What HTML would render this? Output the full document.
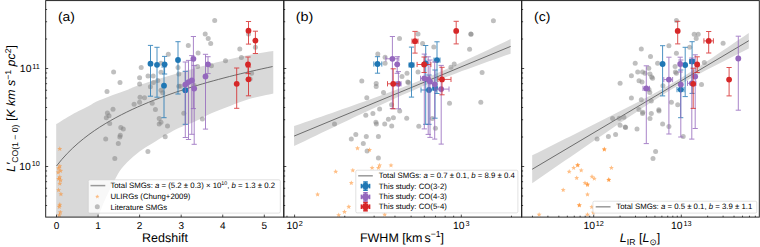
<!DOCTYPE html><html><head><meta charset="utf-8"><style>html,body{margin:0;padding:0;background:#fff;width:760px;height:247px;overflow:hidden;position:relative}</style></head><body><svg width="760" height="247" viewBox="0 0 760 247" style="position:absolute;left:0;top:0" text-rendering="geometricPrecision">
<defs><clipPath id="ca"><rect x="45.7" y="0.6" width="237.9" height="216.5"/></clipPath><clipPath id="cb"><rect x="283.6" y="0.6" width="237.7" height="216.5"/></clipPath><clipPath id="cc"><rect x="521.3" y="0.6" width="238" height="216.5"/></clipPath></defs>
<rect width="760" height="247" fill="#fff"/>
<g clip-path="url(#ca)"><path d="M56.20,124.10 C58.87,122.48 66.83,117.37 72.20,114.40 C77.57,111.43 84.43,108.40 88.40,106.30 C92.37,104.20 92.03,103.65 96.00,101.80 C99.97,99.95 106.80,97.27 112.20,95.20 C117.60,93.13 124.43,90.88 128.40,89.40 C132.37,87.92 131.40,87.90 136.00,86.30 C140.60,84.70 149.33,81.88 156.00,79.80 C162.67,77.72 169.33,75.77 176.00,73.80 C182.67,71.83 189.33,69.88 196.00,68.00 C202.67,66.12 209.67,64.13 216.00,62.50 C222.33,60.87 228.08,59.53 234.00,58.20 C239.92,56.87 244.95,55.70 251.50,54.50 C258.05,53.30 269.67,51.58 273.30,51.00 L273.30,93.40 C269.42,94.30 257.22,96.70 250.00,98.80 C242.78,100.90 236.33,103.63 230.00,106.00 C223.67,108.37 217.83,110.42 212.00,113.00 C206.17,115.58 200.33,119.08 195.00,121.50 C189.67,123.92 183.77,125.87 180.00,127.50 C176.23,129.13 176.37,129.05 172.40,131.30 C168.43,133.55 160.77,138.25 156.20,141.00 C151.63,143.75 148.13,145.75 145.00,147.80 C141.87,149.85 140.02,151.23 137.40,153.30 C134.78,155.37 132.00,157.57 129.30,160.20 C126.60,162.83 123.50,166.05 121.20,169.10 C118.90,172.15 117.37,175.18 115.50,178.50 C113.63,181.82 111.92,185.08 110.00,189.00 C108.08,192.92 106.00,197.25 104.00,202.00 C102.00,206.75 99.00,214.92 98.00,217.50 L56.2,218 Z" fill="#d9d9d9"/><polyline points="56.50,166.00 61.90,159.34 67.31,153.40 72.71,148.05 78.11,143.18 83.51,138.71 88.92,134.57 94.32,130.73 99.72,127.14 105.13,123.77 110.53,120.60 115.93,117.61 121.33,114.77 126.74,112.07 132.14,109.49 137.54,107.04 142.94,104.69 148.35,102.43 153.75,100.27 159.15,98.19 164.56,96.18 169.96,94.25 175.36,92.38 180.76,90.58 186.17,88.83 191.57,87.14 196.97,85.49 202.38,83.90 207.78,82.35 213.18,80.85 218.58,79.38 223.99,77.95 229.39,76.56 234.79,75.21 240.20,73.88 245.60,72.59 251.00,71.33 256.40,70.10 261.81,68.89 267.21,67.71 272.61,66.55" fill="none" stroke="#606060" stroke-width="0.9"/><g fill="#808080" fill-opacity="0.5"><circle cx="214.7" cy="20.6" r="2.5"/><circle cx="205.2" cy="33.9" r="2.5"/><circle cx="208.2" cy="38.4" r="2.5"/><circle cx="210.7" cy="43.4" r="2.5"/><circle cx="188.3" cy="45.6" r="2.5"/><circle cx="168.3" cy="54.2" r="2.5"/><circle cx="198.1" cy="53" r="2.5"/><circle cx="239.8" cy="48.9" r="2.5"/><circle cx="241.4" cy="57.5" r="2.5"/><circle cx="255.4" cy="47.3" r="2.5"/><circle cx="225.5" cy="60.7" r="2.5"/><circle cx="248.5" cy="34.1" r="2.5"/><circle cx="141.2" cy="67.5" r="2.5"/><circle cx="161" cy="63.2" r="2.5"/><circle cx="178" cy="67.5" r="2.5"/><circle cx="113.6" cy="72.1" r="2.5"/><circle cx="120" cy="82.5" r="2.5"/><circle cx="107" cy="91.6" r="2.5"/><circle cx="139.6" cy="77.8" r="2.5"/><circle cx="139.6" cy="84.1" r="2.5"/><circle cx="148" cy="76" r="2.5"/><circle cx="153.2" cy="76" r="2.5"/><circle cx="153.4" cy="82.4" r="2.5"/><circle cx="150.4" cy="86.7" r="2.5"/><circle cx="140" cy="97.3" r="2.5"/><circle cx="144.5" cy="97.7" r="2.5"/><circle cx="139.6" cy="102.2" r="2.5"/><circle cx="134.1" cy="104.2" r="2.5"/><circle cx="152.2" cy="103.3" r="2.5"/><circle cx="155.4" cy="109.6" r="2.5"/><circle cx="113" cy="109.3" r="2.5"/><circle cx="107.4" cy="112.9" r="2.5"/><circle cx="109" cy="115.7" r="2.5"/><circle cx="106.3" cy="117.8" r="2.5"/><circle cx="109.7" cy="123.5" r="2.5"/><circle cx="161" cy="72.2" r="2.5"/><circle cx="159.2" cy="118.5" r="2.5"/><circle cx="161" cy="122.2" r="2.5"/><circle cx="120.8" cy="127.6" r="2.5"/><circle cx="157.8" cy="80.5" r="2.5"/><circle cx="178.8" cy="74" r="2.5"/><circle cx="161" cy="90.2" r="2.5"/><circle cx="162.7" cy="92.7" r="2.5"/><circle cx="178.8" cy="86.2" r="2.5"/><circle cx="211.4" cy="65.8" r="2.5"/><circle cx="197.6" cy="66.5" r="2.5"/><circle cx="251.6" cy="73.3" r="2.5"/><circle cx="183.8" cy="113.3" r="2.5"/><circle cx="202.4" cy="119" r="2.5"/><circle cx="194.2" cy="85.4" r="2.5"/><circle cx="180.4" cy="86.2" r="2.5"/><circle cx="123.3" cy="129" r="2.5"/><circle cx="120.3" cy="135.3" r="2.5"/><circle cx="119.8" cy="137" r="2.5"/><circle cx="105.7" cy="139" r="2.5"/><circle cx="118.3" cy="143.6" r="2.5"/><circle cx="114.8" cy="158.4" r="2.5"/><circle cx="147.9" cy="151.6" r="2.5"/><circle cx="159.2" cy="124" r="2.5"/><circle cx="167.5" cy="126" r="2.5"/><circle cx="250.1" cy="79" r="2.5"/><circle cx="165.2" cy="136.8" r="2.5"/></g><g fill="#ff7f0e" fill-opacity="0.5"><path d="M59.80,146.30 L60.49,147.95 L62.27,148.10 L60.91,149.26 L61.33,151.00 L59.80,150.07 L58.27,151.00 L58.69,149.26 L57.33,148.10 L59.11,147.95Z"/><path d="M59.80,163.60 L60.49,165.25 L62.27,165.40 L60.91,166.56 L61.33,168.30 L59.80,167.37 L58.27,168.30 L58.69,166.56 L57.33,165.40 L59.11,165.25Z"/><path d="M58.60,165.70 L59.29,167.35 L61.07,167.50 L59.71,168.66 L60.13,170.40 L58.60,169.47 L57.07,170.40 L57.49,168.66 L56.13,167.50 L57.91,167.35Z"/><path d="M60.60,168.20 L61.29,169.85 L63.07,170.00 L61.71,171.16 L62.13,172.90 L60.60,171.97 L59.07,172.90 L59.49,171.16 L58.13,170.00 L59.91,169.85Z"/><path d="M58.10,169.80 L58.79,171.45 L60.57,171.60 L59.21,172.76 L59.63,174.50 L58.10,173.57 L56.57,174.50 L56.99,172.76 L55.63,171.60 L57.41,171.45Z"/><path d="M59.80,174.60 L60.49,176.25 L62.27,176.40 L60.91,177.56 L61.33,179.30 L59.80,178.37 L58.27,179.30 L58.69,177.56 L57.33,176.40 L59.11,176.25Z"/><path d="M58.60,176.30 L59.29,177.95 L61.07,178.10 L59.71,179.26 L60.13,181.00 L58.60,180.07 L57.07,181.00 L57.49,179.26 L56.13,178.10 L57.91,177.95Z"/><path d="M60.60,177.80 L61.29,179.45 L63.07,179.60 L61.71,180.76 L62.13,182.50 L60.60,181.57 L59.07,182.50 L59.49,180.76 L58.13,179.60 L59.91,179.45Z"/><path d="M59.80,181.10 L60.49,182.75 L62.27,182.90 L60.91,184.06 L61.33,185.80 L59.80,184.87 L58.27,185.80 L58.69,184.06 L57.33,182.90 L59.11,182.75Z"/><path d="M58.60,187.50 L59.29,189.15 L61.07,189.30 L59.71,190.46 L60.13,192.20 L58.60,191.27 L57.07,192.20 L57.49,190.46 L56.13,189.30 L57.91,189.15Z"/><path d="M60.90,191.60 L61.59,193.25 L63.37,193.40 L62.01,194.56 L62.43,196.30 L60.90,195.37 L59.37,196.30 L59.79,194.56 L58.43,193.40 L60.21,193.25Z"/><path d="M59.80,202.10 L60.49,203.75 L62.27,203.90 L60.91,205.06 L61.33,206.80 L59.80,205.87 L58.27,206.80 L58.69,205.06 L57.33,203.90 L59.11,203.75Z"/><path d="M59.30,204.20 L59.99,205.85 L61.77,206.00 L60.41,207.16 L60.83,208.90 L59.30,207.97 L57.77,208.90 L58.19,207.16 L56.83,206.00 L58.61,205.85Z"/><path d="M60.30,209.70 L60.99,211.35 L62.77,211.50 L61.41,212.66 L61.83,214.40 L60.30,213.47 L58.77,214.40 L59.19,212.66 L57.83,211.50 L59.61,211.35Z"/><path d="M59.30,212.60 L59.99,214.25 L61.77,214.40 L60.41,215.56 L60.83,217.30 L59.30,216.37 L57.77,217.30 L58.19,215.56 L56.83,214.40 L58.61,214.25Z"/></g><g stroke="#1f77b4" stroke-width="1" opacity="0.8"><line x1="150.5" y1="45.4" x2="150.5" y2="96.2"/><line x1="147.90" y1="45.4" x2="153.10" y2="45.4"/><line x1="147.90" y1="96.2" x2="153.10" y2="96.2"/></g><circle cx="150.5" cy="63.7" r="2.9" fill="#1f77b4"/><g stroke="#1f77b4" stroke-width="1" opacity="0.8"><line x1="157" y1="47.3" x2="157" y2="97.2"/><line x1="154.40" y1="47.3" x2="159.60" y2="47.3"/><line x1="154.40" y1="97.2" x2="159.60" y2="97.2"/></g><circle cx="157" cy="64.8" r="2.9" fill="#1f77b4"/><g stroke="#1f77b4" stroke-width="1" opacity="0.8"><line x1="164.6" y1="56.4" x2="164.6" y2="74"/><line x1="162.00" y1="56.4" x2="167.20" y2="56.4"/><line x1="162.00" y1="74" x2="167.20" y2="74"/></g><circle cx="164.6" cy="64.3" r="2.9" fill="#1f77b4"/><g stroke="#1f77b4" stroke-width="1" opacity="0.8"><line x1="164" y1="67" x2="164" y2="117.7"/><line x1="161.40" y1="67" x2="166.60" y2="67"/><line x1="161.40" y1="117.7" x2="166.60" y2="117.7"/></g><circle cx="164" cy="85.7" r="2.9" fill="#1f77b4"/><g stroke="#1f77b4" stroke-width="1" opacity="0.8"><line x1="178" y1="41.7" x2="178" y2="94"/><line x1="175.40" y1="41.7" x2="180.60" y2="41.7"/><line x1="175.40" y1="94" x2="180.60" y2="94"/></g><circle cx="178" cy="60" r="2.9" fill="#1f77b4"/><g stroke="#1f77b4" stroke-width="1" opacity="0.8"><line x1="185.3" y1="71.3" x2="185.3" y2="124.3"/><line x1="182.70" y1="71.3" x2="187.90" y2="71.3"/><line x1="182.70" y1="124.3" x2="187.90" y2="124.3"/></g><circle cx="185.3" cy="90.2" r="2.9" fill="#1f77b4"/><g stroke="#9467bd" stroke-width="1" opacity="0.8"><line x1="185.3" y1="62" x2="185.3" y2="137.5"/><line x1="182.70" y1="62" x2="187.90" y2="62"/><line x1="182.70" y1="137.5" x2="187.90" y2="137.5"/></g><circle cx="185.3" cy="84.6" r="2.9" fill="#9467bd"/><g stroke="#9467bd" stroke-width="1" opacity="0.8"><line x1="188.5" y1="60.4" x2="188.5" y2="139.5"/><line x1="185.90" y1="60.4" x2="191.10" y2="60.4"/><line x1="185.90" y1="139.5" x2="191.10" y2="139.5"/></g><circle cx="188.5" cy="82.1" r="2.9" fill="#9467bd"/><g stroke="#9467bd" stroke-width="1" opacity="0.8"><line x1="191.8" y1="55.6" x2="191.8" y2="134.3"/><line x1="189.20" y1="55.6" x2="194.40" y2="55.6"/><line x1="189.20" y1="134.3" x2="194.40" y2="134.3"/></g><circle cx="191.8" cy="80.5" r="2.9" fill="#9467bd"/><g stroke="#9467bd" stroke-width="1" opacity="0.8"><line x1="194.2" y1="65.4" x2="194.2" y2="144.3"/><line x1="191.60" y1="65.4" x2="196.80" y2="65.4"/><line x1="191.60" y1="144.3" x2="196.80" y2="144.3"/></g><circle cx="194.2" cy="88.6" r="2.9" fill="#9467bd"/><g stroke="#9467bd" stroke-width="1" opacity="0.8"><line x1="193.4" y1="36.5" x2="193.4" y2="108.6"/><line x1="190.80" y1="36.5" x2="196.00" y2="36.5"/><line x1="190.80" y1="108.6" x2="196.00" y2="108.6"/></g><circle cx="193.4" cy="58.8" r="2.9" fill="#9467bd"/><g stroke="#9467bd" stroke-width="1" opacity="0.8"><line x1="205.5" y1="54.3" x2="205.5" y2="129.1"/><line x1="202.90" y1="54.3" x2="208.10" y2="54.3"/><line x1="202.90" y1="129.1" x2="208.10" y2="129.1"/></g><circle cx="205.5" cy="76.5" r="2.9" fill="#9467bd"/><g stroke="#9467bd" stroke-width="1" opacity="0.8"><line x1="208" y1="56.7" x2="208" y2="73.6"/><line x1="205.40" y1="56.7" x2="210.60" y2="56.7"/><line x1="205.40" y1="73.6" x2="210.60" y2="73.6"/></g><circle cx="208" cy="64.3" r="2.9" fill="#9467bd"/><g stroke="#d62728" stroke-width="1" opacity="0.8"><line x1="248.5" y1="21.5" x2="248.5" y2="44.1"/><line x1="245.90" y1="21.5" x2="251.10" y2="21.5"/><line x1="245.90" y1="44.1" x2="251.10" y2="44.1"/></g><circle cx="248.5" cy="30.7" r="2.9" fill="#d62728"/><g stroke="#d62728" stroke-width="1" opacity="0.8"><line x1="255.4" y1="31.2" x2="255.4" y2="53.5"/><line x1="252.80" y1="31.2" x2="258.00" y2="31.2"/><line x1="252.80" y1="53.5" x2="258.00" y2="53.5"/></g><circle cx="255.4" cy="40.6" r="2.9" fill="#d62728"/><g stroke="#d62728" stroke-width="1" opacity="0.8"><line x1="248" y1="57" x2="248" y2="73.6"/><line x1="245.40" y1="57" x2="250.60" y2="57"/><line x1="245.40" y1="73.6" x2="250.60" y2="73.6"/></g><circle cx="248" cy="64.4" r="2.9" fill="#d62728"/><g stroke="#d62728" stroke-width="1" opacity="0.8"><line x1="248.5" y1="67" x2="248.5" y2="95.8"/><line x1="245.90" y1="67" x2="251.10" y2="67"/><line x1="245.90" y1="95.8" x2="251.10" y2="95.8"/></g><circle cx="248.5" cy="79.3" r="2.9" fill="#d62728"/><g stroke="#d62728" stroke-width="1" opacity="0.8"><line x1="236.7" y1="68" x2="236.7" y2="108.3"/><line x1="234.10" y1="68" x2="239.30" y2="68"/><line x1="234.10" y1="108.3" x2="239.30" y2="108.3"/></g><circle cx="236.7" cy="83.8" r="2.9" fill="#d62728"/></g><g clip-path="url(#cb)"><path d="M294.10,126.05 L299.51,124.18 L304.93,122.30 L310.34,120.42 L315.75,118.54 L321.16,116.66 L326.58,114.77 L331.99,112.88 L337.40,110.98 L342.81,109.08 L348.23,107.17 L353.64,105.25 L359.05,103.33 L364.46,101.40 L369.88,99.45 L375.29,97.49 L380.70,95.52 L386.11,93.53 L391.53,91.51 L396.94,89.47 L402.35,87.40 L407.76,85.29 L413.18,83.15 L418.59,80.96 L424.00,78.73 L429.41,76.46 L434.83,74.15 L440.24,71.79 L445.65,69.40 L451.06,66.98 L456.48,64.53 L461.89,62.05 L467.30,59.55 L472.71,57.04 L478.12,54.51 L483.54,51.96 L488.95,49.41 L494.36,46.85 L499.78,44.28 L505.19,41.70 L510.60,39.11 L510.60,53.71 L505.19,55.61 L499.78,57.51 L494.36,59.42 L488.95,61.34 L483.54,63.27 L478.12,65.21 L472.71,67.17 L467.30,69.14 L461.89,71.12 L456.48,73.13 L451.06,75.16 L445.65,77.22 L440.24,79.31 L434.83,81.44 L429.41,83.61 L424.00,85.82 L418.59,88.08 L413.18,90.38 L407.76,92.72 L402.35,95.10 L396.94,97.51 L391.53,99.95 L386.11,102.42 L380.70,104.91 L375.29,107.42 L369.88,109.94 L364.46,112.48 L359.05,115.03 L353.64,117.59 L348.23,120.16 L342.81,122.74 L337.40,125.32 L331.99,127.90 L326.58,130.50 L321.16,133.09 L315.75,135.69 L310.34,138.29 L304.93,140.90 L299.51,143.51 L294.10,146.11Z" fill="#d9d9d9"/><line x1="294.1" y1="136.08" x2="510.6" y2="46.41" stroke="#606060" stroke-width="0.9"/><g fill="#808080" fill-opacity="0.5"><circle cx="399.5" cy="38.6" r="2.5"/><circle cx="377.8" cy="54" r="2.5"/><circle cx="385.1" cy="57.2" r="2.5"/><circle cx="385.1" cy="63.2" r="2.5"/><circle cx="493.4" cy="20.8" r="2.5"/><circle cx="470.8" cy="33.9" r="2.5"/><circle cx="418" cy="33.9" r="2.5"/><circle cx="422.6" cy="43.4" r="2.5"/><circle cx="433.8" cy="47.1" r="2.5"/><circle cx="469.6" cy="49.2" r="2.5"/><circle cx="471.1" cy="34.2" r="2.5"/><circle cx="361.8" cy="81" r="2.5"/><circle cx="376.2" cy="83.5" r="2.5"/><circle cx="376.2" cy="86.6" r="2.5"/><circle cx="383.5" cy="92.6" r="2.5"/><circle cx="366.8" cy="97.7" r="2.5"/><circle cx="379.6" cy="109" r="2.5"/><circle cx="365.8" cy="115.2" r="2.5"/><circle cx="372.9" cy="113.5" r="2.5"/><circle cx="388.4" cy="119.2" r="2.5"/><circle cx="393.4" cy="117.7" r="2.5"/><circle cx="399.7" cy="111" r="2.5"/><circle cx="375.9" cy="122.2" r="2.5"/><circle cx="402" cy="76.5" r="2.5"/><circle cx="407.7" cy="82.1" r="2.5"/><circle cx="391.6" cy="104.8" r="2.5"/><circle cx="407" cy="73.2" r="2.5"/><circle cx="482.1" cy="72.5" r="2.5"/><circle cx="480.8" cy="102.2" r="2.5"/><circle cx="449.5" cy="103.2" r="2.5"/><circle cx="406.7" cy="118.3" r="2.5"/><circle cx="408.5" cy="82.6" r="2.5"/><circle cx="418" cy="72" r="2.5"/><circle cx="450.9" cy="67.3" r="2.5"/><circle cx="454.2" cy="64" r="2.5"/><circle cx="418.8" cy="126.3" r="2.5"/><circle cx="432.3" cy="118.6" r="2.5"/><circle cx="435.4" cy="128.3" r="2.5"/><circle cx="334.5" cy="124" r="2.5"/><circle cx="351.3" cy="139.1" r="2.5"/><circle cx="355.8" cy="134.5" r="2.5"/><circle cx="366.3" cy="136.6" r="2.5"/><circle cx="363.3" cy="143.6" r="2.5"/><circle cx="367.1" cy="151.1" r="2.5"/><circle cx="378.4" cy="136.6" r="2.5"/><circle cx="378.4" cy="157.9" r="2.5"/><circle cx="376.4" cy="124" r="2.5"/><circle cx="384.7" cy="124" r="2.5"/><circle cx="391.7" cy="126" r="2.5"/></g><g fill="#ff7f0e" fill-opacity="0.5"><path d="M357.50,145.70 L358.19,147.35 L359.97,147.50 L358.61,148.66 L359.03,150.40 L357.50,149.47 L355.97,150.40 L356.39,148.66 L355.03,147.50 L356.81,147.35Z"/><path d="M369.60,147.30 L370.29,148.95 L372.07,149.10 L370.71,150.26 L371.13,152.00 L369.60,151.07 L368.07,152.00 L368.49,150.26 L367.13,149.10 L368.91,148.95Z"/><path d="M335.70,169.10 L336.39,170.75 L338.17,170.90 L336.81,172.06 L337.23,173.80 L335.70,172.87 L334.17,173.80 L334.59,172.06 L333.23,170.90 L335.01,170.75Z"/><path d="M352.80,167.80 L353.49,169.45 L355.27,169.60 L353.91,170.76 L354.33,172.50 L352.80,171.57 L351.27,172.50 L351.69,170.76 L350.33,169.60 L352.11,169.45Z"/><path d="M372.10,165.30 L372.79,166.95 L374.57,167.10 L373.21,168.26 L373.63,170.00 L372.10,169.07 L370.57,170.00 L370.99,168.26 L369.63,167.10 L371.41,166.95Z"/><path d="M379.60,162.80 L380.29,164.45 L382.07,164.60 L380.71,165.76 L381.13,167.50 L379.60,166.57 L378.07,167.50 L378.49,165.76 L377.13,164.60 L378.91,164.45Z"/><path d="M391.00,162.80 L391.69,164.45 L393.47,164.60 L392.11,165.76 L392.53,167.50 L391.00,166.57 L389.47,167.50 L389.89,165.76 L388.53,164.60 L390.31,164.45Z"/><path d="M378.40,165.30 L379.09,166.95 L380.87,167.10 L379.51,168.26 L379.93,170.00 L378.40,169.07 L376.87,170.00 L377.29,168.26 L375.93,167.10 L377.71,166.95Z"/><path d="M351.30,180.40 L351.99,182.05 L353.77,182.20 L352.41,183.36 L352.83,185.10 L351.30,184.17 L349.77,185.10 L350.19,183.36 L348.83,182.20 L350.61,182.05Z"/><path d="M317.60,191.90 L318.29,193.55 L320.07,193.70 L318.71,194.86 L319.13,196.60 L317.60,195.67 L316.07,196.60 L316.49,194.86 L315.13,193.70 L316.91,193.55Z"/><path d="M348.80,204.20 L349.49,205.85 L351.27,206.00 L349.91,207.16 L350.33,208.90 L348.80,207.97 L347.27,208.90 L347.69,207.16 L346.33,206.00 L348.11,205.85Z"/><path d="M344.50,209.30 L345.19,210.95 L346.97,211.10 L345.61,212.26 L346.03,214.00 L344.50,213.07 L342.97,214.00 L343.39,212.26 L342.03,211.10 L343.81,210.95Z"/><path d="M338.70,212.50 L339.39,214.15 L341.17,214.30 L339.81,215.46 L340.23,217.20 L338.70,216.27 L337.17,217.20 L337.59,215.46 L336.23,214.30 L338.01,214.15Z"/><path d="M384.70,212.00 L385.39,213.65 L387.17,213.80 L385.81,214.96 L386.23,216.70 L384.70,215.77 L383.17,216.70 L383.59,214.96 L382.23,213.80 L384.01,213.65Z"/></g><g stroke="#1f77b4" stroke-width="1" opacity="0.8"><line x1="377.5" y1="56.7" x2="377.5" y2="73.2"/><line x1="374.90" y1="56.7" x2="380.10" y2="56.7"/><line x1="374.90" y1="73.2" x2="380.10" y2="73.2"/><line x1="373.8" y1="64" x2="381.8" y2="64"/><line x1="373.8" y1="61.40" x2="373.8" y2="66.60"/><line x1="381.8" y1="61.40" x2="381.8" y2="66.60"/></g><circle cx="377.5" cy="64" r="2.9" fill="#1f77b4"/><g stroke="#1f77b4" stroke-width="1" opacity="0.8"><line x1="411.5" y1="47.1" x2="411.5" y2="97.1"/><line x1="408.90" y1="47.1" x2="414.10" y2="47.1"/><line x1="408.90" y1="97.1" x2="414.10" y2="97.1"/><line x1="409" y1="65" x2="414" y2="65"/><line x1="409" y1="62.40" x2="409" y2="67.60"/><line x1="414" y1="62.40" x2="414" y2="67.60"/></g><circle cx="411.5" cy="65" r="2.9" fill="#1f77b4"/><g stroke="#1f77b4" stroke-width="1" opacity="0.8"><line x1="425.7" y1="45.5" x2="425.7" y2="124.3"/><line x1="423.10" y1="45.5" x2="428.30" y2="45.5"/><line x1="423.10" y1="124.3" x2="428.30" y2="124.3"/></g><circle cx="425.7" cy="63.3" r="2.9" fill="#1f77b4"/><g stroke="#1f77b4" stroke-width="1" opacity="0.8"><line x1="437" y1="41.8" x2="437" y2="93.5"/><line x1="434.40" y1="41.8" x2="439.60" y2="41.8"/><line x1="434.40" y1="93.5" x2="439.60" y2="93.5"/><line x1="434" y1="60.1" x2="440" y2="60.1"/><line x1="434" y1="57.50" x2="434" y2="62.70"/><line x1="440" y1="57.50" x2="440" y2="62.70"/></g><circle cx="437" cy="60.1" r="2.9" fill="#1f77b4"/><g stroke="#1f77b4" stroke-width="1" opacity="0.8"><line x1="429" y1="75" x2="429" y2="124.3"/><line x1="426.40" y1="75" x2="431.60" y2="75"/><line x1="426.40" y1="124.3" x2="431.60" y2="124.3"/><line x1="421" y1="90" x2="436" y2="90"/><line x1="421" y1="87.40" x2="421" y2="92.60"/><line x1="436" y1="87.40" x2="436" y2="92.60"/></g><circle cx="429" cy="90" r="2.9" fill="#1f77b4"/><g stroke="#1f77b4" stroke-width="1" opacity="0.8"><line x1="435" y1="70" x2="435" y2="118.2"/><line x1="432.40" y1="70" x2="437.60" y2="70"/><line x1="432.40" y1="118.2" x2="437.60" y2="118.2"/></g><circle cx="435" cy="88" r="2.9" fill="#1f77b4"/><g stroke="#9467bd" stroke-width="1" opacity="0.8"><line x1="392.4" y1="36.5" x2="392.4" y2="108.6"/><line x1="389.80" y1="36.5" x2="395.00" y2="36.5"/><line x1="389.80" y1="108.6" x2="395.00" y2="108.6"/><line x1="385.9" y1="58.8" x2="398.8" y2="58.8"/><line x1="385.9" y1="56.20" x2="385.9" y2="61.40"/><line x1="398.8" y1="56.20" x2="398.8" y2="61.40"/></g><circle cx="392.4" cy="58.8" r="2.9" fill="#9467bd"/><g stroke="#9467bd" stroke-width="1" opacity="0.8"><line x1="397.2" y1="56.7" x2="397.2" y2="73.3"/><line x1="394.60" y1="56.7" x2="399.80" y2="56.7"/><line x1="394.60" y1="73.3" x2="399.80" y2="73.3"/></g><circle cx="397.2" cy="64.3" r="2.9" fill="#9467bd"/><g stroke="#9467bd" stroke-width="1" opacity="0.8"><line x1="398.4" y1="71.6" x2="398.4" y2="108.8"/><line x1="395.80" y1="71.6" x2="401.00" y2="71.6"/><line x1="395.80" y1="108.8" x2="401.00" y2="108.8"/><line x1="396" y1="83.8" x2="401" y2="83.8"/><line x1="396" y1="81.20" x2="396" y2="86.40"/><line x1="401" y1="81.20" x2="401" y2="86.40"/></g><circle cx="398.4" cy="83.8" r="2.9" fill="#9467bd"/><g stroke="#9467bd" stroke-width="1" opacity="0.8"><line x1="424.3" y1="54.1" x2="424.3" y2="128.9"/><line x1="421.70" y1="54.1" x2="426.90" y2="54.1"/><line x1="421.70" y1="128.9" x2="426.90" y2="128.9"/><line x1="420.5" y1="78.3" x2="429.5" y2="78.3"/><line x1="420.5" y1="75.70" x2="420.5" y2="80.90"/><line x1="429.5" y1="75.70" x2="429.5" y2="80.90"/></g><circle cx="424.3" cy="78.3" r="2.9" fill="#9467bd"/><g stroke="#9467bd" stroke-width="1" opacity="0.8"><line x1="428.2" y1="56.8" x2="428.2" y2="134.4"/><line x1="425.60" y1="56.8" x2="430.80" y2="56.8"/><line x1="425.60" y1="134.4" x2="430.80" y2="134.4"/></g><circle cx="428.2" cy="79.4" r="2.9" fill="#9467bd"/><g stroke="#9467bd" stroke-width="1" opacity="0.8"><line x1="430" y1="60" x2="430" y2="137.4"/><line x1="427.40" y1="60" x2="432.60" y2="60"/><line x1="427.40" y1="137.4" x2="432.60" y2="137.4"/></g><circle cx="430" cy="81.6" r="2.9" fill="#9467bd"/><g stroke="#9467bd" stroke-width="1" opacity="0.8"><line x1="434.7" y1="62" x2="434.7" y2="139.1"/><line x1="432.10" y1="62" x2="437.30" y2="62"/><line x1="432.10" y1="139.1" x2="437.30" y2="139.1"/></g><circle cx="434.7" cy="84.3" r="2.9" fill="#9467bd"/><g stroke="#9467bd" stroke-width="1" opacity="0.8"><line x1="441.2" y1="65.4" x2="441.2" y2="144.1"/><line x1="438.60" y1="65.4" x2="443.80" y2="65.4"/><line x1="438.60" y1="144.1" x2="443.80" y2="144.1"/><line x1="436" y1="89.1" x2="449" y2="89.1"/><line x1="436" y1="86.50" x2="436" y2="91.70"/><line x1="449" y1="86.50" x2="449" y2="91.70"/></g><circle cx="441.2" cy="89.1" r="2.9" fill="#9467bd"/><g stroke="#d62728" stroke-width="1" opacity="0.8"><line x1="456.2" y1="21.3" x2="456.2" y2="43.9"/><line x1="453.60" y1="21.3" x2="458.80" y2="21.3"/><line x1="453.60" y1="43.9" x2="458.80" y2="43.9"/></g><circle cx="456.2" cy="30.9" r="2.9" fill="#d62728"/><g stroke="#d62728" stroke-width="1" opacity="0.8"><line x1="415" y1="31.4" x2="415" y2="53.1"/><line x1="412.40" y1="31.4" x2="417.60" y2="31.4"/><line x1="412.40" y1="53.1" x2="417.60" y2="53.1"/><line x1="412" y1="41.2" x2="418" y2="41.2"/><line x1="412" y1="38.60" x2="412" y2="43.80"/><line x1="418" y1="38.60" x2="418" y2="43.80"/></g><circle cx="415" cy="41.2" r="2.9" fill="#d62728"/><g stroke="#d62728" stroke-width="1" opacity="0.8"><line x1="393.2" y1="68.8" x2="393.2" y2="108.8"/><line x1="390.60" y1="68.8" x2="395.80" y2="68.8"/><line x1="390.60" y1="108.8" x2="395.80" y2="108.8"/><line x1="387.5" y1="83.8" x2="399" y2="83.8"/><line x1="387.5" y1="81.20" x2="387.5" y2="86.40"/><line x1="399" y1="81.20" x2="399" y2="86.40"/></g><circle cx="393.2" cy="83.8" r="2.9" fill="#d62728"/><g stroke="#d62728" stroke-width="1" opacity="0.8"><line x1="424.1" y1="57" x2="424.1" y2="72.5"/><line x1="421.50" y1="57" x2="426.70" y2="57"/><line x1="421.50" y1="72.5" x2="426.70" y2="72.5"/><line x1="417.1" y1="64.5" x2="430.9" y2="64.5"/><line x1="417.1" y1="61.90" x2="417.1" y2="67.10"/><line x1="430.9" y1="61.90" x2="430.9" y2="67.10"/></g><circle cx="424.1" cy="64.5" r="2.9" fill="#d62728"/><g stroke="#d62728" stroke-width="1" opacity="0.8"><line x1="442" y1="67.3" x2="442" y2="94.8"/><line x1="439.40" y1="67.3" x2="444.60" y2="67.3"/><line x1="439.40" y1="94.8" x2="444.60" y2="94.8"/><line x1="438" y1="79.4" x2="451" y2="79.4"/><line x1="438" y1="76.80" x2="438" y2="82.00"/><line x1="451" y1="76.80" x2="451" y2="82.00"/></g><circle cx="442" cy="79.4" r="2.9" fill="#d62728"/></g><g clip-path="url(#cc)"><path d="M532.20,155.36 L537.62,152.65 L543.03,149.94 L548.45,147.24 L553.86,144.53 L559.28,141.82 L564.69,139.10 L570.11,136.39 L575.52,133.67 L580.94,130.96 L586.35,128.23 L591.76,125.51 L597.18,122.78 L602.60,120.05 L608.01,117.31 L613.42,114.57 L618.84,111.81 L624.25,109.05 L629.67,106.27 L635.09,103.48 L640.50,100.67 L645.91,97.83 L651.33,94.95 L656.75,92.02 L662.16,89.03 L667.58,85.97 L672.99,82.82 L678.40,79.57 L683.82,76.24 L689.24,72.83 L694.65,69.35 L700.06,65.82 L705.48,62.24 L710.89,58.64 L716.31,55.01 L721.72,51.37 L727.14,47.71 L732.55,44.04 L737.97,40.36 L743.38,36.67 L748.80,32.98 L748.80,48.44 L743.38,51.17 L737.97,53.91 L732.55,56.66 L727.14,59.42 L721.72,62.19 L716.31,64.97 L710.89,67.77 L705.48,70.59 L700.06,73.45 L694.65,76.34 L689.24,79.29 L683.82,82.30 L678.40,85.40 L672.99,88.58 L667.58,91.86 L662.16,95.22 L656.75,98.66 L651.33,102.17 L645.91,105.71 L640.50,109.30 L635.09,112.91 L629.67,116.55 L624.25,120.20 L618.84,123.86 L613.42,127.54 L608.01,131.22 L602.60,134.91 L597.18,138.61 L591.76,142.30 L586.35,146.01 L580.94,149.72 L575.52,153.42 L570.11,157.14 L564.69,160.85 L559.28,164.57 L553.86,168.28 L548.45,172.00 L543.03,175.72 L537.62,179.44 L532.20,183.16Z" fill="#d9d9d9"/><line x1="532.2" y1="169.26" x2="748.8" y2="40.71" stroke="#606060" stroke-width="0.9"/><g fill="#808080" fill-opacity="0.5"><circle cx="676.4" cy="20.6" r="2.5"/><circle cx="694.2" cy="34.2" r="2.5"/><circle cx="698.2" cy="34.2" r="2.5"/><circle cx="696.2" cy="38.6" r="2.5"/><circle cx="668.9" cy="45.7" r="2.5"/><circle cx="641.3" cy="48.9" r="2.5"/><circle cx="650.5" cy="56.5" r="2.5"/><circle cx="676.4" cy="53.2" r="2.5"/><circle cx="689.7" cy="47.3" r="2.5"/><circle cx="723.1" cy="43.3" r="2.5"/><circle cx="704.3" cy="62.5" r="2.5"/><circle cx="635.2" cy="63.3" r="2.5"/><circle cx="631.4" cy="75.8" r="2.5"/><circle cx="637.7" cy="72" r="2.5"/><circle cx="620.1" cy="83.3" r="2.5"/><circle cx="639" cy="80.8" r="2.5"/><circle cx="631.4" cy="97.9" r="2.5"/><circle cx="612.6" cy="118.5" r="2.5"/><circle cx="623.9" cy="117.2" r="2.5"/><circle cx="649.8" cy="92.4" r="2.5"/><circle cx="638.9" cy="109.4" r="2.5"/><circle cx="619.3" cy="118.2" r="2.5"/><circle cx="642.5" cy="72" r="2.5"/><circle cx="650" cy="74" r="2.5"/><circle cx="648.8" cy="68.3" r="2.5"/><circle cx="652.6" cy="78.3" r="2.5"/><circle cx="642" cy="82" r="2.5"/><circle cx="641.3" cy="99.7" r="2.5"/><circle cx="651.3" cy="100.9" r="2.5"/><circle cx="671.4" cy="102.2" r="2.5"/><circle cx="658.8" cy="109.7" r="2.5"/><circle cx="642.5" cy="113.5" r="2.5"/><circle cx="651.3" cy="113.5" r="2.5"/><circle cx="650" cy="118.5" r="2.5"/><circle cx="677.7" cy="104.7" r="2.5"/><circle cx="701.5" cy="84.6" r="2.5"/><circle cx="675.1" cy="66.5" r="2.5"/><circle cx="676.4" cy="73.3" r="2.5"/><circle cx="657.6" cy="63.3" r="2.5"/><circle cx="651.6" cy="77" r="2.5"/><circle cx="645" cy="73.3" r="2.5"/><circle cx="649" cy="89.6" r="2.5"/><circle cx="662.9" cy="85.8" r="2.5"/><circle cx="675.4" cy="72" r="2.5"/><circle cx="659" cy="111" r="2.5"/><circle cx="642.8" cy="112.2" r="2.5"/><circle cx="597.1" cy="139.1" r="2.5"/><circle cx="608.4" cy="136.6" r="2.5"/><circle cx="615.6" cy="134.5" r="2.5"/><circle cx="620.1" cy="125.3" r="2.5"/><circle cx="625.2" cy="127" r="2.5"/><circle cx="625.6" cy="127.6" r="2.5"/><circle cx="637" cy="129" r="2.5"/><circle cx="655.6" cy="151.6" r="2.5"/><circle cx="653" cy="158.4" r="2.5"/><circle cx="683.2" cy="136.6" r="2.5"/><circle cx="668.9" cy="126.5" r="2.5"/><circle cx="662.6" cy="124" r="2.5"/></g><g fill="#ff7f0e" fill-opacity="0.5"><path d="M604.30,146.50 L604.99,148.15 L606.77,148.30 L605.41,149.46 L605.83,151.20 L604.30,150.27 L602.77,151.20 L603.19,149.46 L601.83,148.30 L603.61,148.15Z"/><path d="M604.30,147.00 L604.99,148.65 L606.77,148.80 L605.41,149.96 L605.83,151.70 L604.30,150.77 L602.77,151.70 L603.19,149.96 L601.83,148.80 L603.61,148.65Z"/><path d="M577.50,162.80 L578.19,164.45 L579.97,164.60 L578.61,165.76 L579.03,167.50 L577.50,166.57 L575.97,167.50 L576.39,165.76 L575.03,164.60 L576.81,164.45Z"/><path d="M577.90,162.40 L578.59,164.05 L580.37,164.20 L579.01,165.36 L579.43,167.10 L577.90,166.17 L576.37,167.10 L576.79,165.36 L575.43,164.20 L577.21,164.05Z"/><path d="M608.80,177.40 L609.49,179.05 L611.27,179.20 L609.91,180.36 L610.33,182.10 L608.80,181.17 L607.27,182.10 L607.69,180.36 L606.33,179.20 L608.11,179.05Z"/><path d="M579.40,202.80 L580.09,204.45 L581.87,204.60 L580.51,205.76 L580.93,207.50 L579.40,206.57 L577.87,207.50 L578.29,205.76 L576.93,204.60 L578.71,204.45Z"/><path d="M591.80,204.40 L592.49,206.05 L594.27,206.20 L592.91,207.36 L593.33,209.10 L591.80,208.17 L590.27,209.10 L590.69,207.36 L589.33,206.20 L591.11,206.05Z"/><path d="M593.30,210.00 L593.99,211.65 L595.77,211.80 L594.41,212.96 L594.83,214.70 L593.30,213.77 L591.77,214.70 L592.19,212.96 L590.83,211.80 L592.61,211.65Z"/><path d="M573.70,165.30 L574.39,166.95 L576.17,167.10 L574.81,168.26 L575.23,170.00 L573.70,169.07 L572.17,170.00 L572.59,168.26 L571.23,167.10 L573.01,166.95Z"/><path d="M569.20,169.10 L569.89,170.75 L571.67,170.90 L570.31,172.06 L570.73,173.80 L569.20,172.87 L567.67,173.80 L568.09,172.06 L566.73,170.90 L568.51,170.75Z"/><path d="M581.20,167.80 L581.89,169.45 L583.67,169.60 L582.31,170.76 L582.73,172.50 L581.20,171.57 L579.67,172.50 L580.09,170.76 L578.73,169.60 L580.51,169.45Z"/><path d="M611.40,165.30 L612.09,166.95 L613.87,167.10 L612.51,168.26 L612.93,170.00 L611.40,169.07 L609.87,170.00 L610.29,168.26 L608.93,167.10 L610.71,166.95Z"/><path d="M576.70,175.40 L577.39,177.05 L579.17,177.20 L577.81,178.36 L578.23,180.10 L576.70,179.17 L575.17,180.10 L575.59,178.36 L574.23,177.20 L576.01,177.05Z"/><path d="M592.00,174.10 L592.69,175.75 L594.47,175.90 L593.11,177.06 L593.53,178.80 L592.00,177.87 L590.47,178.80 L590.89,177.06 L589.53,175.90 L591.31,175.75Z"/><path d="M594.30,176.10 L594.99,177.75 L596.77,177.90 L595.41,179.06 L595.83,180.80 L594.30,179.87 L592.77,180.80 L593.19,179.06 L591.83,177.90 L593.61,177.75Z"/><path d="M608.80,177.10 L609.49,178.75 L611.27,178.90 L609.91,180.06 L610.33,181.80 L608.80,180.87 L607.27,181.80 L607.69,180.06 L606.33,178.90 L608.11,178.75Z"/><path d="M585.00,180.40 L585.69,182.05 L587.47,182.20 L586.11,183.36 L586.53,185.10 L585.00,184.17 L583.47,185.10 L583.89,183.36 L582.53,182.20 L584.31,182.05Z"/><path d="M587.50,181.60 L588.19,183.25 L589.97,183.40 L588.61,184.56 L589.03,186.30 L587.50,185.37 L585.97,186.30 L586.39,184.56 L585.03,183.40 L586.81,183.25Z"/><path d="M563.20,187.40 L563.89,189.05 L565.67,189.20 L564.31,190.36 L564.73,192.10 L563.20,191.17 L561.67,192.10 L562.09,190.36 L560.73,189.20 L562.51,189.05Z"/><path d="M587.50,182.40 L588.19,184.05 L589.97,184.20 L588.61,185.36 L589.03,187.10 L587.50,186.17 L585.97,187.10 L586.39,185.36 L585.03,184.20 L586.81,184.05Z"/><path d="M587.50,191.90 L588.19,193.55 L589.97,193.70 L588.61,194.86 L589.03,196.60 L587.50,195.67 L585.97,196.60 L586.39,194.86 L585.03,193.70 L586.81,193.55Z"/><path d="M579.20,202.50 L579.89,204.15 L581.67,204.30 L580.31,205.46 L580.73,207.20 L579.20,206.27 L577.67,207.20 L578.09,205.46 L576.73,204.30 L578.51,204.15Z"/><path d="M587.50,212.00 L588.19,213.65 L589.97,213.80 L588.61,214.96 L589.03,216.70 L587.50,215.77 L585.97,216.70 L586.39,214.96 L585.03,213.80 L586.81,213.65Z"/><path d="M539.10,212.00 L539.79,213.65 L541.57,213.80 L540.21,214.96 L540.63,216.70 L539.10,215.77 L537.57,216.70 L537.99,214.96 L536.63,213.80 L538.41,213.65Z"/></g><g stroke="#1f77b4" stroke-width="1" opacity="0.8"><line x1="662.6" y1="45.7" x2="662.6" y2="95.9"/><line x1="660.00" y1="45.7" x2="665.20" y2="45.7"/><line x1="660.00" y1="95.9" x2="665.20" y2="95.9"/></g><circle cx="662.6" cy="64" r="2.9" fill="#1f77b4"/><g stroke="#1f77b4" stroke-width="1" opacity="0.8"><line x1="685.2" y1="47.3" x2="685.2" y2="96.6"/><line x1="682.60" y1="47.3" x2="687.80" y2="47.3"/><line x1="682.60" y1="96.6" x2="687.80" y2="96.6"/></g><circle cx="685.2" cy="65" r="2.9" fill="#1f77b4"/><g stroke="#1f77b4" stroke-width="1" opacity="0.8"><line x1="692.1" y1="41.7" x2="692.1" y2="93.4"/><line x1="689.50" y1="41.7" x2="694.70" y2="41.7"/><line x1="689.50" y1="93.4" x2="694.70" y2="93.4"/><line x1="689.5" y1="61.5" x2="694.5" y2="61.5"/><line x1="689.5" y1="58.90" x2="689.5" y2="64.10"/><line x1="694.5" y1="58.90" x2="694.5" y2="64.10"/></g><circle cx="692.1" cy="61.5" r="2.9" fill="#1f77b4"/><g stroke="#1f77b4" stroke-width="1" opacity="0.8"><line x1="680.7" y1="70" x2="680.7" y2="117.7"/><line x1="678.10" y1="70" x2="683.30" y2="70"/><line x1="678.10" y1="117.7" x2="683.30" y2="117.7"/><line x1="677" y1="89.6" x2="684" y2="89.6"/><line x1="677" y1="87.00" x2="677" y2="92.20"/><line x1="684" y1="87.00" x2="684" y2="92.20"/></g><circle cx="680.7" cy="89.6" r="2.9" fill="#1f77b4"/><g stroke="#9467bd" stroke-width="1" opacity="0.8"><line x1="668.9" y1="57.2" x2="668.9" y2="134"/><line x1="666.30" y1="57.2" x2="671.50" y2="57.2"/><line x1="666.30" y1="134" x2="671.50" y2="134"/><line x1="663.8" y1="79.6" x2="672.6" y2="79.6"/><line x1="663.8" y1="77.00" x2="663.8" y2="82.20"/><line x1="672.6" y1="77.00" x2="672.6" y2="82.20"/></g><circle cx="668.9" cy="79.6" r="2.9" fill="#9467bd"/><g stroke="#9467bd" stroke-width="1" opacity="0.8"><line x1="646.3" y1="65.8" x2="646.3" y2="143.6"/><line x1="643.70" y1="65.8" x2="648.90" y2="65.8"/><line x1="643.70" y1="143.6" x2="648.90" y2="143.6"/><line x1="643" y1="88.4" x2="649.5" y2="88.4"/><line x1="643" y1="85.80" x2="643" y2="91.00"/><line x1="649.5" y1="85.80" x2="649.5" y2="91.00"/></g><circle cx="646.3" cy="88.4" r="2.9" fill="#9467bd"/><g stroke="#9467bd" stroke-width="1" opacity="0.8"><line x1="680.2" y1="57.2" x2="680.2" y2="72"/><line x1="677.60" y1="57.2" x2="682.80" y2="57.2"/><line x1="677.60" y1="72" x2="682.80" y2="72"/></g><circle cx="680.2" cy="64" r="2.9" fill="#9467bd"/><g stroke="#9467bd" stroke-width="1" opacity="0.8"><line x1="695.2" y1="54.8" x2="695.2" y2="128.5"/><line x1="692.60" y1="54.8" x2="697.80" y2="54.8"/><line x1="692.60" y1="128.5" x2="697.80" y2="128.5"/></g><circle cx="695.2" cy="76.6" r="2.9" fill="#9467bd"/><g stroke="#9467bd" stroke-width="1" opacity="0.8"><line x1="680.8" y1="60" x2="680.8" y2="137"/><line x1="678.20" y1="60" x2="683.40" y2="60"/><line x1="678.20" y1="137" x2="683.40" y2="137"/></g><circle cx="680.8" cy="84.6" r="2.9" fill="#9467bd"/><g stroke="#9467bd" stroke-width="1" opacity="0.8"><line x1="691.8" y1="58" x2="691.8" y2="139.1"/><line x1="689.20" y1="58" x2="694.40" y2="58"/><line x1="689.20" y1="139.1" x2="694.40" y2="139.1"/><line x1="687.5" y1="83.3" x2="696" y2="83.3"/><line x1="687.5" y1="80.70" x2="687.5" y2="85.90"/><line x1="696" y1="80.70" x2="696" y2="85.90"/></g><circle cx="691.8" cy="83.3" r="2.9" fill="#9467bd"/><g stroke="#9467bd" stroke-width="1" opacity="0.8"><line x1="738.3" y1="36.2" x2="738.3" y2="110.2"/><line x1="735.70" y1="36.2" x2="740.90" y2="36.2"/><line x1="735.70" y1="110.2" x2="740.90" y2="110.2"/></g><circle cx="738.3" cy="58.5" r="2.9" fill="#9467bd"/><g stroke="#d62728" stroke-width="1" opacity="0.8"><line x1="677.7" y1="21.3" x2="677.7" y2="43.9"/><line x1="675.10" y1="21.3" x2="680.30" y2="21.3"/><line x1="675.10" y1="43.9" x2="680.30" y2="43.9"/></g><circle cx="677.7" cy="30.9" r="2.9" fill="#d62728"/><g stroke="#d62728" stroke-width="1" opacity="0.8"><line x1="708.7" y1="31.5" x2="708.7" y2="53"/><line x1="706.10" y1="31.5" x2="711.30" y2="31.5"/><line x1="706.10" y1="53" x2="711.30" y2="53"/><line x1="703.9" y1="40.9" x2="713.4" y2="40.9"/><line x1="703.9" y1="38.30" x2="703.9" y2="43.50"/><line x1="713.4" y1="38.30" x2="713.4" y2="43.50"/></g><circle cx="708.7" cy="40.9" r="2.9" fill="#d62728"/><g stroke="#d62728" stroke-width="1" opacity="0.8"><line x1="697.2" y1="56.8" x2="697.2" y2="72.5"/><line x1="694.60" y1="56.8" x2="699.80" y2="56.8"/><line x1="694.60" y1="72.5" x2="699.80" y2="72.5"/></g><circle cx="697.2" cy="64.5" r="2.9" fill="#d62728"/><g stroke="#d62728" stroke-width="1" opacity="0.8"><line x1="693.2" y1="68.2" x2="693.2" y2="108.4"/><line x1="690.60" y1="68.2" x2="695.80" y2="68.2"/><line x1="690.60" y1="108.4" x2="695.80" y2="108.4"/></g><circle cx="693.2" cy="83.8" r="2.9" fill="#d62728"/><g stroke="#d62728" stroke-width="1" opacity="0.8"><line x1="729.1" y1="67.5" x2="729.1" y2="95.9"/><line x1="726.50" y1="67.5" x2="731.70" y2="67.5"/><line x1="726.50" y1="95.9" x2="731.70" y2="95.9"/></g><circle cx="729.1" cy="79.6" r="2.9" fill="#d62728"/></g><g font-family="Liberation Sans, sans-serif" font-size="7.8" fill="#000"><rect x="88.3" y="179.8" width="192" height="33.3" rx="1.5" fill="#fff" fill-opacity="0.8" stroke="#cccccc" stroke-width="0.6"/><line x1="90.5" y1="185.6" x2="105.3" y2="185.6" stroke="#999999" stroke-width="1.5"/><text x="110.4" y="188.4">Total SMGs: <tspan font-style="italic">a</tspan> = (5.2 ± 0.3) × 10<tspan font-size="5.3" dy="-3">10</tspan><tspan dy="3">, </tspan><tspan font-style="italic">b</tspan> = 1.3 ± 0.2</text><path d="M97.30,194.40 L97.88,195.80 L99.39,195.92 L98.24,196.91 L98.59,198.38 L97.30,197.59 L96.01,198.38 L96.36,196.91 L95.21,195.92 L96.72,195.80Z" fill="#ff7f0e" fill-opacity="0.5"/><text x="110.4" y="199.1">ULIRGs (Chung+2009)</text><circle cx="97.3" cy="206.8" r="2.5" fill="#808080" fill-opacity="0.5"/><text x="110.4" y="209.8">Literature SMGs</text><rect x="355.8" y="170.2" width="162.1" height="42.7" rx="1.5" fill="#fff" fill-opacity="0.8" stroke="#cccccc" stroke-width="0.6"/><line x1="358.2" y1="175.8" x2="372.8" y2="175.8" stroke="#999999" stroke-width="1.5"/><text x="378.8" y="178.1">Total SMGs: <tspan font-style="italic">a</tspan> = 0.7 ± 0.1, <tspan font-style="italic">b</tspan> = 8.9 ± 0.4</text><g stroke="#1f77b4" stroke-width="1.5"><line x1="361.4" y1="186.1" x2="369.6" y2="186.1"/><line x1="365.5" y1="182.0" x2="365.5" y2="190.2"/><line x1="361.4" y1="183.79999999999998" x2="361.4" y2="188.4"/><line x1="369.6" y1="183.79999999999998" x2="369.6" y2="188.4"/><line x1="363.2" y1="182.0" x2="367.8" y2="182.0"/><line x1="363.2" y1="190.2" x2="367.8" y2="190.2"/></g><circle cx="365.5" cy="186.1" r="3.4" fill="#1f77b4"/><text x="378.8" y="188.6">This study: CO(3-2)</text><g stroke="#9467bd" stroke-width="1.5"><line x1="361.4" y1="196.9" x2="369.6" y2="196.9"/><line x1="365.5" y1="192.8" x2="365.5" y2="201.0"/><line x1="361.4" y1="194.6" x2="361.4" y2="199.20000000000002"/><line x1="369.6" y1="194.6" x2="369.6" y2="199.20000000000002"/><line x1="363.2" y1="192.8" x2="367.8" y2="192.8"/><line x1="363.2" y1="201.0" x2="367.8" y2="201.0"/></g><circle cx="365.5" cy="196.9" r="3.4" fill="#9467bd"/><text x="378.8" y="199.4">This study: CO(4-3)</text><g stroke="#d62728" stroke-width="1.5"><line x1="361.4" y1="206.7" x2="369.6" y2="206.7"/><line x1="365.5" y1="202.6" x2="365.5" y2="210.79999999999998"/><line x1="361.4" y1="204.39999999999998" x2="361.4" y2="209.0"/><line x1="369.6" y1="204.39999999999998" x2="369.6" y2="209.0"/><line x1="363.2" y1="202.6" x2="367.8" y2="202.6"/><line x1="363.2" y1="210.79999999999998" x2="367.8" y2="210.79999999999998"/></g><circle cx="365.5" cy="206.7" r="3.4" fill="#d62728"/><text x="378.8" y="209.2">This study: CO(5-4)</text><rect x="592.9" y="201.2" width="163.9" height="11.9" rx="1.5" fill="#fff" fill-opacity="0.8" stroke="#cccccc" stroke-width="0.6"/><line x1="595.7" y1="206.8" x2="610.5" y2="206.8" stroke="#999999" stroke-width="1.5"/><text x="616.3" y="209.2">Total SMGs: <tspan font-style="italic">a</tspan> = 0.5 ± 0.1, <tspan font-style="italic">b</tspan> = 3.9 ± 1.1</text></g>
<rect x="45.7" y="0.6" width="238.10000000000002" height="216.5" fill="none" stroke="#1a1a1a" stroke-width="0.95"/><rect x="283.8" y="0.6" width="237.90000000000003" height="216.5" fill="none" stroke="#1a1a1a" stroke-width="0.95"/><rect x="521.7" y="0.6" width="237.5999999999999" height="216.5" fill="none" stroke="#1a1a1a" stroke-width="0.95"/><line x1="45.7" y1="205.50" x2="47.1" y2="205.50" stroke="#000" stroke-width="0.7"/><line x1="45.7" y1="196.00" x2="47.1" y2="196.00" stroke="#000" stroke-width="0.7"/><line x1="45.7" y1="188.24" x2="47.1" y2="188.24" stroke="#000" stroke-width="0.7"/><line x1="45.7" y1="181.68" x2="47.1" y2="181.68" stroke="#000" stroke-width="0.7"/><line x1="45.7" y1="176.00" x2="47.1" y2="176.00" stroke="#000" stroke-width="0.7"/><line x1="45.7" y1="170.98" x2="47.1" y2="170.98" stroke="#000" stroke-width="0.7"/><line x1="45.7" y1="166.50" x2="48.2" y2="166.50" stroke="#000" stroke-width="0.7"/><line x1="45.7" y1="137.00" x2="47.1" y2="137.00" stroke="#000" stroke-width="0.7"/><line x1="45.7" y1="119.74" x2="47.1" y2="119.74" stroke="#000" stroke-width="0.7"/><line x1="45.7" y1="107.50" x2="47.1" y2="107.50" stroke="#000" stroke-width="0.7"/><line x1="45.7" y1="98.00" x2="47.1" y2="98.00" stroke="#000" stroke-width="0.7"/><line x1="45.7" y1="90.24" x2="47.1" y2="90.24" stroke="#000" stroke-width="0.7"/><line x1="45.7" y1="83.68" x2="47.1" y2="83.68" stroke="#000" stroke-width="0.7"/><line x1="45.7" y1="78.00" x2="47.1" y2="78.00" stroke="#000" stroke-width="0.7"/><line x1="45.7" y1="72.98" x2="47.1" y2="72.98" stroke="#000" stroke-width="0.7"/><line x1="45.7" y1="68.50" x2="48.2" y2="68.50" stroke="#000" stroke-width="0.7"/><line x1="45.7" y1="39.00" x2="47.1" y2="39.00" stroke="#000" stroke-width="0.7"/><line x1="45.7" y1="21.74" x2="47.1" y2="21.74" stroke="#000" stroke-width="0.7"/><line x1="45.7" y1="9.50" x2="47.1" y2="9.50" stroke="#000" stroke-width="0.7"/><line x1="283.8" y1="205.50" x2="285.2" y2="205.50" stroke="#000" stroke-width="0.7"/><line x1="283.8" y1="196.00" x2="285.2" y2="196.00" stroke="#000" stroke-width="0.7"/><line x1="283.8" y1="188.24" x2="285.2" y2="188.24" stroke="#000" stroke-width="0.7"/><line x1="283.8" y1="181.68" x2="285.2" y2="181.68" stroke="#000" stroke-width="0.7"/><line x1="283.8" y1="176.00" x2="285.2" y2="176.00" stroke="#000" stroke-width="0.7"/><line x1="283.8" y1="170.98" x2="285.2" y2="170.98" stroke="#000" stroke-width="0.7"/><line x1="283.8" y1="166.50" x2="286.3" y2="166.50" stroke="#000" stroke-width="0.7"/><line x1="283.8" y1="137.00" x2="285.2" y2="137.00" stroke="#000" stroke-width="0.7"/><line x1="283.8" y1="119.74" x2="285.2" y2="119.74" stroke="#000" stroke-width="0.7"/><line x1="283.8" y1="107.50" x2="285.2" y2="107.50" stroke="#000" stroke-width="0.7"/><line x1="283.8" y1="98.00" x2="285.2" y2="98.00" stroke="#000" stroke-width="0.7"/><line x1="283.8" y1="90.24" x2="285.2" y2="90.24" stroke="#000" stroke-width="0.7"/><line x1="283.8" y1="83.68" x2="285.2" y2="83.68" stroke="#000" stroke-width="0.7"/><line x1="283.8" y1="78.00" x2="285.2" y2="78.00" stroke="#000" stroke-width="0.7"/><line x1="283.8" y1="72.98" x2="285.2" y2="72.98" stroke="#000" stroke-width="0.7"/><line x1="283.8" y1="68.50" x2="286.3" y2="68.50" stroke="#000" stroke-width="0.7"/><line x1="283.8" y1="39.00" x2="285.2" y2="39.00" stroke="#000" stroke-width="0.7"/><line x1="283.8" y1="21.74" x2="285.2" y2="21.74" stroke="#000" stroke-width="0.7"/><line x1="283.8" y1="9.50" x2="285.2" y2="9.50" stroke="#000" stroke-width="0.7"/><line x1="521.7" y1="205.50" x2="523.1" y2="205.50" stroke="#000" stroke-width="0.7"/><line x1="521.7" y1="196.00" x2="523.1" y2="196.00" stroke="#000" stroke-width="0.7"/><line x1="521.7" y1="188.24" x2="523.1" y2="188.24" stroke="#000" stroke-width="0.7"/><line x1="521.7" y1="181.68" x2="523.1" y2="181.68" stroke="#000" stroke-width="0.7"/><line x1="521.7" y1="176.00" x2="523.1" y2="176.00" stroke="#000" stroke-width="0.7"/><line x1="521.7" y1="170.98" x2="523.1" y2="170.98" stroke="#000" stroke-width="0.7"/><line x1="521.7" y1="166.50" x2="524.2" y2="166.50" stroke="#000" stroke-width="0.7"/><line x1="521.7" y1="137.00" x2="523.1" y2="137.00" stroke="#000" stroke-width="0.7"/><line x1="521.7" y1="119.74" x2="523.1" y2="119.74" stroke="#000" stroke-width="0.7"/><line x1="521.7" y1="107.50" x2="523.1" y2="107.50" stroke="#000" stroke-width="0.7"/><line x1="521.7" y1="98.00" x2="523.1" y2="98.00" stroke="#000" stroke-width="0.7"/><line x1="521.7" y1="90.24" x2="523.1" y2="90.24" stroke="#000" stroke-width="0.7"/><line x1="521.7" y1="83.68" x2="523.1" y2="83.68" stroke="#000" stroke-width="0.7"/><line x1="521.7" y1="78.00" x2="523.1" y2="78.00" stroke="#000" stroke-width="0.7"/><line x1="521.7" y1="72.98" x2="523.1" y2="72.98" stroke="#000" stroke-width="0.7"/><line x1="521.7" y1="68.50" x2="524.2" y2="68.50" stroke="#000" stroke-width="0.7"/><line x1="521.7" y1="39.00" x2="523.1" y2="39.00" stroke="#000" stroke-width="0.7"/><line x1="521.7" y1="21.74" x2="523.1" y2="21.74" stroke="#000" stroke-width="0.7"/><line x1="521.7" y1="9.50" x2="523.1" y2="9.50" stroke="#000" stroke-width="0.7"/><line x1="56.50" y1="217.1" x2="56.50" y2="214.6" stroke="#000" stroke-width="0.7"/><line x1="98.06" y1="217.1" x2="98.06" y2="214.6" stroke="#000" stroke-width="0.7"/><line x1="139.62" y1="217.1" x2="139.62" y2="214.6" stroke="#000" stroke-width="0.7"/><line x1="181.18" y1="217.1" x2="181.18" y2="214.6" stroke="#000" stroke-width="0.7"/><line x1="222.74" y1="217.1" x2="222.74" y2="214.6" stroke="#000" stroke-width="0.7"/><line x1="264.30" y1="217.1" x2="264.30" y2="214.6" stroke="#000" stroke-width="0.7"/><line x1="286.97" y1="217.1" x2="286.97" y2="215.7" stroke="#000" stroke-width="0.7"/><line x1="294.60" y1="217.1" x2="294.60" y2="214.6" stroke="#000" stroke-width="0.7"/><line x1="344.78" y1="217.1" x2="344.78" y2="215.7" stroke="#000" stroke-width="0.7"/><line x1="374.14" y1="217.1" x2="374.14" y2="215.7" stroke="#000" stroke-width="0.7"/><line x1="394.96" y1="217.1" x2="394.96" y2="215.7" stroke="#000" stroke-width="0.7"/><line x1="411.12" y1="217.1" x2="411.12" y2="215.7" stroke="#000" stroke-width="0.7"/><line x1="424.32" y1="217.1" x2="424.32" y2="215.7" stroke="#000" stroke-width="0.7"/><line x1="435.48" y1="217.1" x2="435.48" y2="215.7" stroke="#000" stroke-width="0.7"/><line x1="445.15" y1="217.1" x2="445.15" y2="215.7" stroke="#000" stroke-width="0.7"/><line x1="453.67" y1="217.1" x2="453.67" y2="215.7" stroke="#000" stroke-width="0.7"/><line x1="461.30" y1="217.1" x2="461.30" y2="214.6" stroke="#000" stroke-width="0.7"/><line x1="511.48" y1="217.1" x2="511.48" y2="215.7" stroke="#000" stroke-width="0.7"/><line x1="532.47" y1="217.1" x2="532.47" y2="215.7" stroke="#000" stroke-width="0.7"/><line x1="547.90" y1="217.1" x2="547.90" y2="215.7" stroke="#000" stroke-width="0.7"/><line x1="558.84" y1="217.1" x2="558.84" y2="215.7" stroke="#000" stroke-width="0.7"/><line x1="567.33" y1="217.1" x2="567.33" y2="215.7" stroke="#000" stroke-width="0.7"/><line x1="574.27" y1="217.1" x2="574.27" y2="215.7" stroke="#000" stroke-width="0.7"/><line x1="580.13" y1="217.1" x2="580.13" y2="215.7" stroke="#000" stroke-width="0.7"/><line x1="585.21" y1="217.1" x2="585.21" y2="215.7" stroke="#000" stroke-width="0.7"/><line x1="589.69" y1="217.1" x2="589.69" y2="215.7" stroke="#000" stroke-width="0.7"/><line x1="593.70" y1="217.1" x2="593.70" y2="214.6" stroke="#000" stroke-width="0.7"/><line x1="620.07" y1="217.1" x2="620.07" y2="215.7" stroke="#000" stroke-width="0.7"/><line x1="635.50" y1="217.1" x2="635.50" y2="215.7" stroke="#000" stroke-width="0.7"/><line x1="646.44" y1="217.1" x2="646.44" y2="215.7" stroke="#000" stroke-width="0.7"/><line x1="654.93" y1="217.1" x2="654.93" y2="215.7" stroke="#000" stroke-width="0.7"/><line x1="661.87" y1="217.1" x2="661.87" y2="215.7" stroke="#000" stroke-width="0.7"/><line x1="667.73" y1="217.1" x2="667.73" y2="215.7" stroke="#000" stroke-width="0.7"/><line x1="672.81" y1="217.1" x2="672.81" y2="215.7" stroke="#000" stroke-width="0.7"/><line x1="677.29" y1="217.1" x2="677.29" y2="215.7" stroke="#000" stroke-width="0.7"/><line x1="681.30" y1="217.1" x2="681.30" y2="214.6" stroke="#000" stroke-width="0.7"/><line x1="707.67" y1="217.1" x2="707.67" y2="215.7" stroke="#000" stroke-width="0.7"/><line x1="723.10" y1="217.1" x2="723.10" y2="215.7" stroke="#000" stroke-width="0.7"/><line x1="734.04" y1="217.1" x2="734.04" y2="215.7" stroke="#000" stroke-width="0.7"/><line x1="742.53" y1="217.1" x2="742.53" y2="215.7" stroke="#000" stroke-width="0.7"/><line x1="749.47" y1="217.1" x2="749.47" y2="215.7" stroke="#000" stroke-width="0.7"/><line x1="755.33" y1="217.1" x2="755.33" y2="215.7" stroke="#000" stroke-width="0.7"/>
<g font-family="Liberation Sans, sans-serif" fill="#000"><text x="56.50" y="229.4" font-size="10.0" text-anchor="middle">0</text><text x="98.06" y="229.4" font-size="10.0" text-anchor="middle">1</text><text x="139.62" y="229.4" font-size="10.0" text-anchor="middle">2</text><text x="181.18" y="229.4" font-size="10.0" text-anchor="middle">3</text><text x="222.74" y="229.4" font-size="10.0" text-anchor="middle">4</text><text x="264.30" y="229.4" font-size="10.0" text-anchor="middle">5</text><text x="294.60" y="229.4" font-size="10.4" text-anchor="middle">10<tspan dx="0.8" font-size="7.3" dy="-3.8">2</tspan></text><text x="461.30" y="229.4" font-size="10.4" text-anchor="middle">10<tspan dx="0.8" font-size="7.3" dy="-3.8">3</tspan></text><text x="593.70" y="229.4" font-size="10.4" text-anchor="middle">10<tspan dx="0.8" font-size="7.3" dy="-3.8">12</tspan></text><text x="681.30" y="229.4" font-size="10.4" text-anchor="middle">10<tspan dx="0.8" font-size="7.3" dy="-3.8">13</tspan></text><text x="39.8" y="72.40" font-size="10.4" text-anchor="end">10<tspan dx="0.8" font-size="7.3" dy="-3.8">11</tspan></text><text x="39.8" y="170.10" font-size="10.4" text-anchor="end">10<tspan dx="0.8" font-size="7.3" dy="-3.8">10</tspan></text><text x="165" y="242" font-size="12.5" text-anchor="middle">Redshift</text><text x="402" y="242" font-size="12.5" text-anchor="middle">FWHM [km<tspan dx="2">s</tspan><tspan font-size="8.7" dy="-5">−1</tspan><tspan dy="5">]</tspan></text><text x="640" y="242" font-size="12.5" text-anchor="middle"><tspan font-style="italic">L</tspan><tspan font-size="8.7" dy="2.5">IR</tspan><tspan dy="-2.5"> [</tspan><tspan font-style="italic">L</tspan><tspan font-size="8.7" dy="2.5">⊙</tspan><tspan dy="-2.5">]</tspan></text><g transform="translate(15,108.4) rotate(-90)"><text x="-63.6" y="0" font-size="12" textLength="127" lengthAdjust="spacingAndGlyphs"><tspan font-style="italic">L′</tspan><tspan font-size="8.4" dy="3.3">CO(1 − 0)</tspan><tspan dy="-3.3"> [</tspan><tspan font-style="italic">K km s</tspan><tspan font-size="8.4" dy="-4.5">−1</tspan><tspan dy="4.5" font-style="italic"> pc</tspan><tspan font-size="8.4" dy="-4.5">2</tspan><tspan dy="4.5">]</tspan></text></g><text x="57.9" y="20.9" font-size="12.8" textLength="16.9" lengthAdjust="spacingAndGlyphs">(a)</text><text x="295.7" y="20.9" font-size="12.8" textLength="17.6" lengthAdjust="spacingAndGlyphs">(b)</text><text x="534.1" y="20.9" font-size="12.8" textLength="16.3" lengthAdjust="spacingAndGlyphs">(c)</text></g>
</svg></body></html>
